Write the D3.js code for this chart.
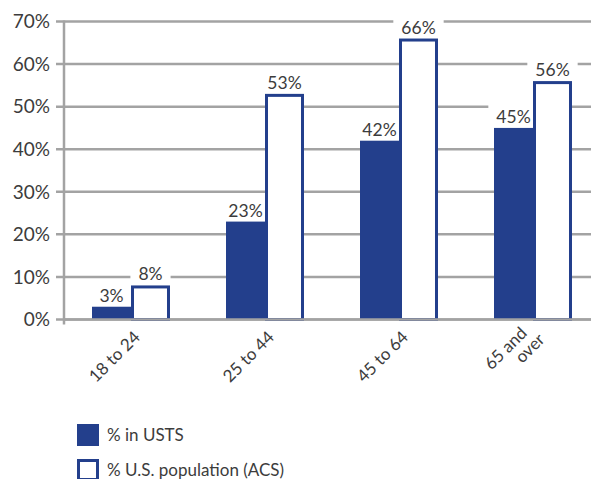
<!DOCTYPE html>
<html><head><meta charset="utf-8">
<script src="https://cdn.jsdelivr.net/npm/d3@7"></script>
<style>body{margin:0;background:#fff}svg{display:block;font-family:Lato,"Open Sans",sans-serif}</style>
</head><body><svg id="c" width="591" height="479"></svg>
<script>
const categories = [["18 to 24"], ["25 to 44"], ["45 to 64"], ["65 and", "over"]];
const usts = [3, 23, 42, 45];
const acs = [8, 53, 66, 56];
const yTicks = [0, 10, 20, 30, 40, 50, 60, 70];
const seriesNames = ["% in USTS", "% U.S. population (ACS)"];

const blue = "#233f8c", grid = "#a3a3a3", txt = "#3c3c3c";
const svg = d3.select("#c");
const x0 = 64;
const x = d3.scaleBand().domain(d3.range(categories.length)).range([x0, x0 + 134 * 4]).paddingInner(0.418).paddingOuter(0.209);
const xs = d3.scaleBand().domain([0, 1]).range([0, x.bandwidth()]);
const y = d3.scaleLinear().domain([0, 70]).range([319.5, 21.5]);

// gridlines
svg.append("g").selectAll("line").data(yTicks).join("line")
  .attr("x1", 56).attr("x2", 591).attr("y1", d => y(d)).attr("y2", d => y(d))
  .attr("stroke", grid).attr("stroke-width", 2.5);
// y axis line
svg.append("line").attr("x1", x0).attr("x2", x0).attr("y1", y(70) - 1).attr("y2", y(0) + 5)
  .attr("stroke", grid).attr("stroke-width", 2.5);
// y tick labels
svg.append("g").selectAll("text").data(yTicks).join("text")
  .attr("x", 50).attr("y", d => y(d)).attr("dy", "0.36em").attr("text-anchor", "end")
  .attr("font-size", 19).attr("fill", txt).text(d => d + "%");

const series = [usts, acs];
const labels = [];
series.forEach((vals, s) => vals.forEach((v, i) => labels.push({s, i, v})));
const bgG = svg.append("g");
const barG = svg.append("g");
const lg = svg.append("g");
labels.forEach(d => {
  const cx = x(d.i) + xs(d.s) + xs.bandwidth() / 2;
  const ty = y(d.v) - 5;
  const t = lg.append("text").attr("x", cx).attr("y", ty).attr("text-anchor", "middle")
    .attr("font-size", 17.5).attr("fill", txt).text(d.v + "%");
  const bb = t.node().getBBox();
  bgG.append("rect").attr("x", bb.x - 8).attr("y", bb.y - 3).attr("width", bb.width + 16)
    .attr("height", y(d.v) - bb.y + 3).attr("fill", "#fff");
});
// bars
barG.append("g").selectAll("rect").data(usts).join("rect")
  .attr("x", (d, i) => x(i) + xs(0)).attr("y", d => y(d))
  .attr("width", xs.bandwidth()).attr("height", d => y(0) - y(d)).attr("fill", blue);
barG.append("g").selectAll("rect").data(acs).join("rect")
  .attr("x", (d, i) => x(i) + xs(1) + 1.5).attr("y", d => y(d) + 1.5)
  .attr("width", xs.bandwidth() - 3).attr("height", d => y(0) - y(d) - 1.5)
  .attr("fill", "#fff").attr("stroke", blue).attr("stroke-width", 3);
barG.append("line").attr("x1", x0).attr("x2", 591).attr("y1", y(0)).attr("y2", y(0))
  .attr("stroke", grid).attr("stroke-width", 2.5);

// x labels
categories.forEach((lines, i) => {
  const cx = x(i) + x.bandwidth() / 2 + 6;
  const t = svg.append("text").attr("transform", `translate(${cx},${334}) rotate(-45)`)
    .attr("text-anchor", "end").attr("font-size", 17).attr("fill", txt);
  lines.forEach((l, k) => t.append("tspan").attr("x", lines.length > 1 ? (k === 0 ? -8 : 0) : 0)
    .attr("dy", k === 0 ? (lines.length > 1 ? "-0.45em" : "0.35em") : "1em").text(l));
});

// legend
const leg = svg.append("g");
seriesNames.forEach((n, k) => {
  const ly = 424 + k * 35;
  leg.append("rect").attr("x", k ? 78.5 : 77).attr("y", k ? ly + 1.5 : ly)
    .attr("width", k ? 19 : 22).attr("height", k ? 19 : 22)
    .attr("fill", k ? "#fff" : blue).attr("stroke", k ? blue : "none").attr("stroke-width", 3);
  leg.append("text").attr("x", 107).attr("y", ly + 17).attr("font-size", 17).attr("fill", txt).text(n);
});
</script></body></html>
